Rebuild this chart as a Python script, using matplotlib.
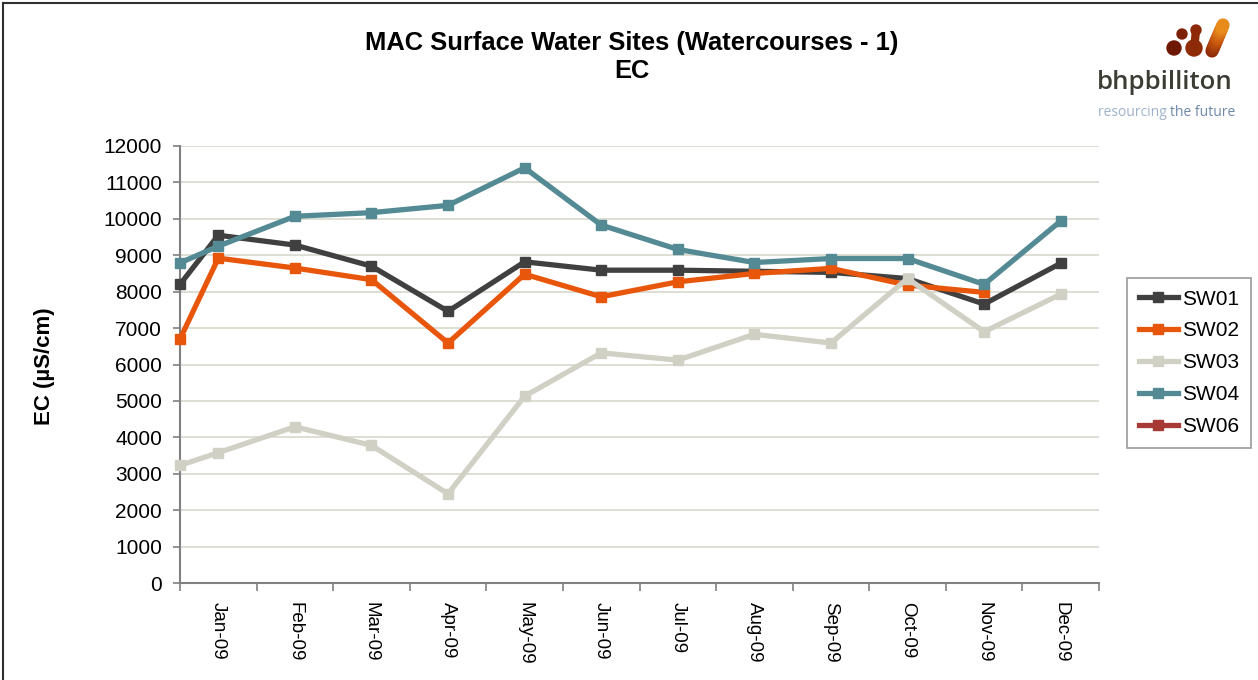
import numpy as np
import matplotlib
matplotlib.use("Agg")
import matplotlib.pyplot as plt
from matplotlib.lines import Line2D
from matplotlib.colors import LinearSegmentedColormap

plt.rcParams['font.family'] = ['Liberation Sans', 'DejaVu Sans']

months = ['Jan-09', 'Feb-09', 'Mar-09', 'Apr-09', 'May-09', 'Jun-09',
          'Jul-09', 'Aug-09', 'Sep-09', 'Oct-09', 'Nov-09', 'Dec-09']

# first reading sits on the left edge of the axis (before Jan-09)
x_pos = [-0.5, 0, 1, 2, 3, 4, 5, 6, 7, 8, 9, 10, 11]

sw01 = [8200, 9550, 9280, 8700, 7460, 8820, 8590, 8590, 8560, 8530, 8360, 7660, 8780]
sw02 = [6700, 8920, 8650, 8330, 6590, 8480, 7860, 8270, 8500, 8640, 8180, 7980, np.nan]
sw03 = [3230, 3580, 4290, 3780, 2450, 5130, 6320, 6120, 6830, 6590, 8360, 6900, 7930]
sw04 = [8790, 9250, 10070, 10170, 10370, 11400, 9830, 9160, 8800, 8910, 8910, 8200, 9940]
sw06 = [np.nan] * 13

series = {'SW01': sw01, 'SW02': sw02, 'SW03': sw03, 'SW04': sw04, 'SW06': sw06}
colors = {'SW01': '#404040', 'SW02': '#E8560C', 'SW03': '#D0D0C4',
          'SW04': '#538A94', 'SW06': '#A83A36'}

fig = plt.figure(figsize=(12.58, 6.8), dpi=100)
ax = fig.add_axes([0.1431, 0.1426, 0.7305, 0.6427])

for name, vals in series.items():
    ax.plot(x_pos, vals, color=colors[name], lw=3.8, marker='s', ms=7.5,
            label=name, zorder=3, clip_on=False)

ax.set_xlim(-0.5, 11.5)
ax.set_ylim(0, 12000)
ax.set_yticks(np.arange(0, 12001, 1000))
ax.tick_params(axis='y', labelsize=15, length=5, width=1.2, color='#808080', pad=8)
ax.yaxis.grid(True, color='#D8D8CC', lw=1.2)
ax.set_axisbelow(True)

# ticks on month boundaries, labels centred under each month
ax.set_xticks(np.arange(-0.5, 12, 1))
ax.set_xticklabels([])
ax.set_xticks(np.arange(0, 12), minor=True)
ax.set_xticklabels(months, minor=True, rotation=-90, fontsize=13.5)
ax.tick_params(axis='x', which='major', length=6, width=1.2, color='#808080')
ax.tick_params(axis='x', which='minor', length=0, pad=14)

for s in ['top', 'right']:
    ax.spines[s].set_visible(False)
for s in ['left', 'bottom']:
    ax.spines[s].set_color('#808080')
    ax.spines[s].set_linewidth(1.5)

ax.set_ylabel('EC (µS/cm)', fontsize=16, fontweight='bold', labelpad=0)
ax.yaxis.set_label_coords(-0.136, 0.497)

fig.text(0.502, 0.937, 'MAC Surface Water Sites (Watercourses - 1)', ha='center',
         va='center', fontsize=18.4, fontweight='bold')
fig.text(0.502, 0.895, 'EC', ha='center', va='center', fontsize=18.4, fontweight='bold')

handles = [Line2D([], [], color=colors[n], lw=3.8, marker='s', ms=7.5) for n in series]
leg = fig.legend(handles, list(series.keys()), loc='upper left',
                 bbox_to_anchor=(0.896, 0.591), borderaxespad=0, fontsize=15,
                 frameon=True, fancybox=False, edgecolor='#808080',
                 handlelength=1.9, handletextpad=0.2, labelspacing=0.62,
                 borderpad=0.55)
leg.get_frame().set_linewidth(1.2)

# logo in the top right corner
logo = fig.add_axes([0, 0, 1, 1], zorder=-1)
logo.set_xlim(0, 1258)
logo.set_ylim(680, 0)
logo.axis('off')
logo.add_patch(plt.Circle((1174, 48), 7, color='#6E1804'))
logo.add_patch(plt.Circle((1182, 34), 5, color='#7E2006'))
logo.add_patch(plt.Circle((1196, 30), 5, color='#8A2808'))
logo.add_patch(plt.Circle((1194, 48), 8, color='#8E2C08'))
logo.plot([1196, 1194.5], [30, 45], color='#8C2A08', lw=6, solid_capstyle='round')
grad = LinearSegmentedColormap.from_list('bhp', ['#8E2C08', '#C8580E', '#EE951E'])
n_seg = 12
for i in range(n_seg):
    t0, t1 = i / n_seg, (i + 1) / n_seg
    logo.plot([1212 + 11 * t0, 1212 + 11 * t1], [51 - 26 * t0, 51 - 26 * t1],
              color=grad(t0), lw=9.5, solid_capstyle='round')
logo.text(1097, 89, 'bhpbilliton', fontsize=18.5, color='#3C3C34',
          family=['Open Sans', 'DejaVu Sans'], fontweight='semibold', va='baseline')

tag1 = logo.text(1098, 116, 'resourcing ', fontsize=10, color='#9DB2C9',
                 family=['Open Sans', 'DejaVu Sans'], va='baseline')
fig.canvas.draw()
bb = tag1.get_window_extent()
x_end = logo.transData.inverted().transform((bb.x1, bb.y0))[0]
logo.text(x_end, 116, 'the future', fontsize=10, color='#6C88AA',
          family=['Open Sans', 'DejaVu Sans'], va='baseline')

# frame lines along the top and left of the image
logo.plot([3, 1258], [3, 3], color='#303030', lw=1.5)
logo.plot([3, 3], [3, 680], color='#303030', lw=1.5)

fig.savefig('out.png', dpi=100)
